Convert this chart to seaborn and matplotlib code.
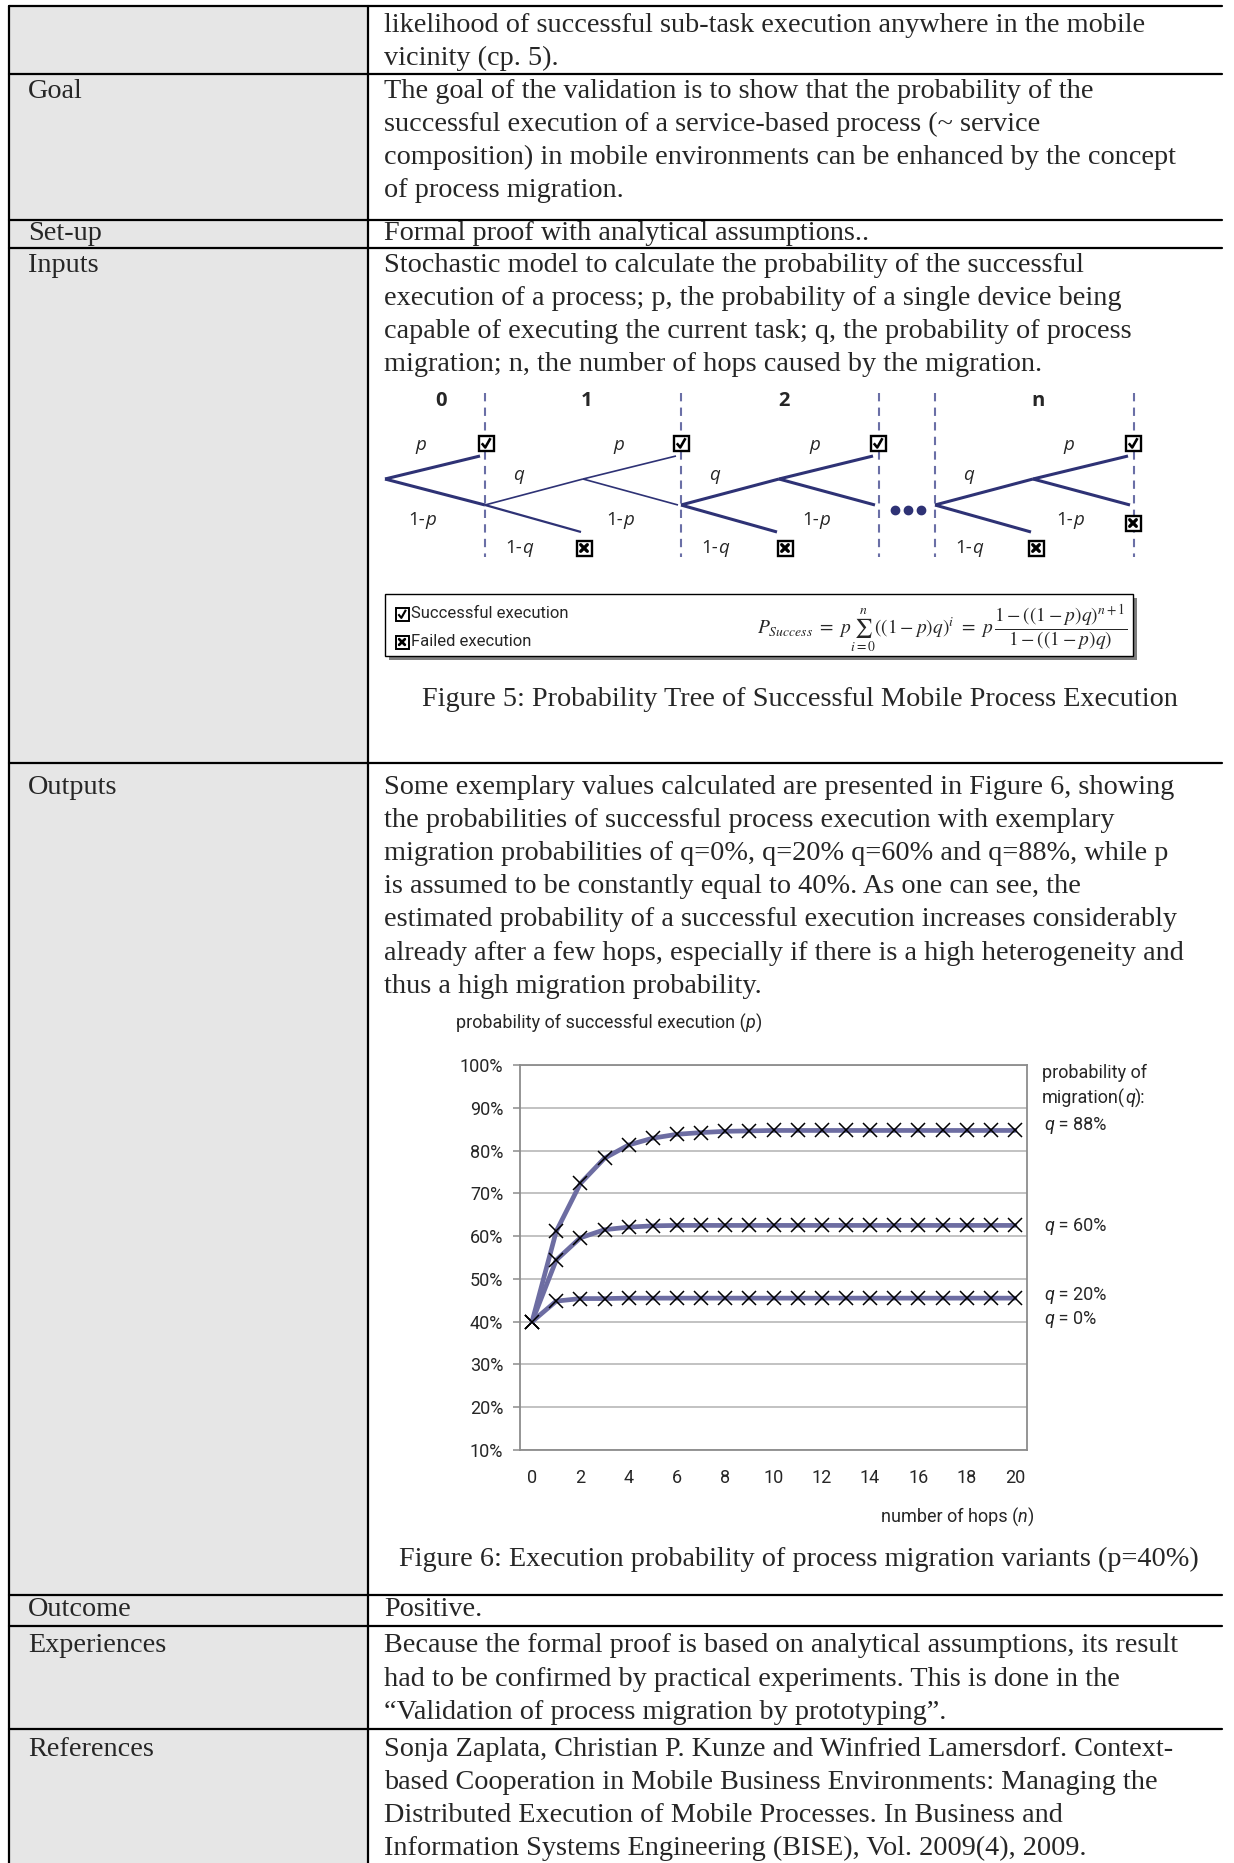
import numpy as np
import pandas as pd
import seaborn as sns
import matplotlib.pyplot as plt
from matplotlib.patches import Rectangle

# ---------------- data of figure 6 ----------------
hops = list(range(21))
prob_q88 = [0.400, 0.611, 0.723, 0.782, 0.813, 0.829, 0.838, 0.842, 0.845, 0.846, 0.847,
            0.847, 0.847, 0.847, 0.847, 0.847, 0.847, 0.847, 0.847, 0.847, 0.847]
prob_q60 = [0.400, 0.544, 0.596, 0.615, 0.621, 0.624, 0.625, 0.625, 0.625, 0.625, 0.625,
            0.625, 0.625, 0.625, 0.625, 0.625, 0.625, 0.625, 0.625, 0.625, 0.625]
prob_q20 = [0.400, 0.448, 0.454, 0.454, 0.455, 0.455, 0.455, 0.455, 0.455, 0.455, 0.455,
            0.455, 0.455, 0.455, 0.455, 0.455, 0.455, 0.455, 0.455, 0.455, 0.455]
y_ticks = [0.1, 0.2, 0.3, 0.4, 0.5, 0.6, 0.7, 0.8, 0.9, 1.0]
x_ticks = [0, 2, 4, 6, 8, 10, 12, 14, 16, 18, 20]
series_labels = ['q = 88%', 'q = 60%', 'q = 20%']

# ---------------- text of the table ----------------
row_labels = ['', 'Goal', 'Set-up', 'Inputs', 'Outputs', 'Outcome', 'Experiences', 'References']
row_texts = [
    ['likelihood of successful sub-task execution anywhere in the mobile',
     'vicinity (cp. 5).'],
    ['The goal of the validation is to show that the probability of the',
     'successful execution of a service-based process (~ service',
     'composition) in mobile environments can be enhanced by the concept',
     'of process migration.'],
    ['Formal proof with analytical assumptions..'],
    ['Stochastic model to calculate the probability of the successful',
     'execution of a process; p, the probability of a single device being',
     'capable of executing the current task; q, the probability of process',
     'migration; n, the number of hops caused by the migration.'],
    ['Some exemplary values calculated are presented in Figure 6, showing',
     'the probabilities of successful process execution with exemplary',
     'migration probabilities of q=0%, q=20% q=60% and q=88%, while p',
     'is assumed to be constantly equal to 40%. As one can see, the',
     'estimated probability of a successful execution increases considerably',
     'already after a few hops, especially if there is a high heterogeneity and',
     'thus a high migration probability.'],
    ['Positive.'],
    ['Because the formal proof is based on analytical assumptions, its result',
     'had to be confirmed by practical experiments. This is done in the',
     '\u201cValidation of process migration by prototyping\u201d.'],
    ['Sonja Zaplata, Christian P. Kunze and Winfried Lamersdorf. Context-',
     'based Cooperation in Mobile Business Environments: Managing the',
     'Distributed Execution of Mobile Processes. In Business and',
     'Information Systems Engineering (BISE), Vol. 2009(4), 2009.'],
]
# first text line of every row (pixel rows of the page)
row_first_line = [25, 91, 233, 265, 787, 1610, 1646, 1749]
row_borders = [6, 74, 220, 248, 763, 1595, 1626, 1729]
line_step = 33.2

sns.set_style('white')
plt.rcParams['font.family'] = ['Liberation Serif', 'DejaVu Serif']
plt.rcParams['mathtext.fontset'] = 'stix'

serif = ['Liberation Serif', 'DejaVu Serif']
narrow = ['Roboto', 'DejaVu Sans']
sans = ['Open Sans', 'DejaVu Sans']
navy = '#2E3275'
dash_col = '#6A6FA6'
line_col = '#6D6DA2'
body_size = 20.3

fig = plt.figure(figsize=(12.34, 18.63), dpi=100)
doc = fig.add_axes([0, 0, 1, 1])
doc.set_xlim(0, 1234)
doc.set_ylim(1863, 0)
doc.axis('off')
renderer = fig.canvas.get_renderer()


def pieces(x, y, parts, size, family, ha='left', zorder=3):
    # draw a run of text pieces (text, style) one after another
    drawn = []
    cx = x
    for txt, st in parts:
        t = doc.text(cx, y, txt, fontsize=size, family=family, style=st,
                     ha='left', va='center', zorder=zorder)
        cx += t.get_window_extent(renderer=renderer).width
        drawn.append(t)
    if ha != 'left':
        shift = (cx - x) if ha == 'right' else (cx - x) / 2
        for t in drawn:
            t.set_x(t.get_position()[0] - shift)


def box_ok(x, y, s=15, lw=1.7):
    doc.add_patch(Rectangle((x - s / 2, y - s / 2), s, s, facecolor='white', edgecolor='black', lw=lw, zorder=4))
    doc.plot([x - s * 0.28, x - s * 0.05, x + s * 0.3], [y + s * 0.02, y + s * 0.3, y - s * 0.32],
             color='black', lw=lw * 1.1, zorder=5, solid_capstyle='butt')


def box_fail(x, y, s=15, lw=1.7):
    doc.add_patch(Rectangle((x - s / 2, y - s / 2), s, s, facecolor='white', edgecolor='black', lw=lw, zorder=4))
    d = s * 0.22
    doc.plot([x - d, x + d], [y - d, y + d], color='black', lw=lw * 1.4, zorder=5)
    doc.plot([x - d, x + d], [y + d, y - d], color='black', lw=lw * 1.4, zorder=5)


# table
doc.add_patch(Rectangle((9, 6), 359, 1857, facecolor='#E6E6E6', edgecolor='none', zorder=0))
for yb in row_borders:
    doc.plot([9, 1222], [yb, yb], color='black', lw=1.6, zorder=2)
doc.plot([9, 9], [6, 1863], color='black', lw=1.6, zorder=2)
doc.plot([368, 368], [6, 1863], color='black', lw=1.6, zorder=2)

for lab, lines, y0 in zip(row_labels, row_texts, row_first_line):
    doc.text(28, y0, lab, fontsize=body_size, family=serif, va='center', ha='left')
    for i, t in enumerate(lines):
        doc.text(384, y0 + i * line_step, t, fontsize=body_size, family=serif, va='center', ha='left')

# ---------------- figure 5: probability tree ----------------
dash_x = [485, 681, 879, 935, 1134]
for xd in dash_x:
    doc.plot([xd, xd], [393, 557], color=dash_col, lw=1.5, ls=(0, (4, 3)), zorder=1)

stage_names = ['0', '1', '2', 'n']
stage_name_x = [441, 587, 784, 1038]
for s, xs in zip(stage_names, stage_name_x):
    doc.text(xs, 401, s, fontsize=14.5, family=sans, weight='bold', ha='center', va='center')


def label(x, y, txt):
    if txt.startswith('1-'):
        pieces(x, y, [('1-', 'normal'), (txt[2:], 'italic')], 13.5, sans, ha='center')
    else:
        doc.text(x, y, txt, fontsize=13.5, family=sans, style='italic', ha='center', va='center')


# stage 0
doc.plot([385, 480], [479, 456], color=navy, lw=2.2, solid_capstyle='butt')
doc.plot([385, 485], [479, 505], color=navy, lw=2.2, solid_capstyle='butt')
label(421, 445, 'p')
label(422, 520, '1-p')

# stages 1, 2, n: (start node x, end x of the stage, line width)
stages = [(485, 681, 1.2), (681, 878, 2.2), (935, 1133, 2.2)]
for xs, xe, lw in stages:
    xm = xs + 98
    doc.plot([xs, xm], [505, 479], color=navy, lw=lw, solid_capstyle='butt')
    doc.plot([xs, xm - 2], [505, 532], color=navy, lw=max(lw, 1.6), solid_capstyle='butt')
    doc.plot([xm, xe - 5], [479, 456], color=navy, lw=lw, solid_capstyle='butt')
    doc.plot([xm, xe - 3], [479, 505], color=navy, lw=lw, solid_capstyle='butt')
    label(xs + 34, 475, 'q')
    label(xs + 34, 548, '1-q')
    label(xm + 36, 445, 'p')
    label(xm + 37, 520, '1-p')

for xb in [486, 681, 878, 1133]:
    box_ok(xb, 443)
for xb, yb in [(584, 548), (785, 548), (1036, 548), (1133, 523)]:
    box_fail(xb, yb)

doc.plot([895, 908, 921], [510, 510, 510], 'o', color=navy, ms=6)

# legend / formula box
doc.add_patch(Rectangle((389, 598), 748, 62, facecolor='#7F7F7F', edgecolor='none', zorder=1))
doc.add_patch(Rectangle((385, 594), 748, 62, facecolor='white', edgecolor='black', lw=1.0, zorder=2))
box_ok(402, 614, s=13, lw=1.4)
doc.text(411, 614, 'Successful execution', fontsize=12, family=narrow, ha='left', va='center', zorder=3)
box_fail(402, 642, s=13, lw=1.4)
doc.text(411, 642, 'Failed execution', fontsize=12, family=narrow, ha='left', va='center', zorder=3)
doc.text(942, 628, r'$P_{Success}\ =\ p\sum_{i=0}^{n}((1-p)q)^{i}\ =\ p\,\dfrac{1-((1-p)q)^{n+1}}{1-((1-p)q)}$',
         fontsize=14, ha='center', va='center', zorder=3)

doc.text(800, 700, 'Figure 5: Probability Tree of Successful Mobile Process Execution',
         fontsize=body_size, family=serif, ha='center', va='center')

# ---------------- figure 6: chart ----------------
df = pd.DataFrame({
    'hops': hops * 3,
    'prob': prob_q88 + prob_q60 + prob_q20,
    'q': [series_labels[0]] * 21 + [series_labels[1]] * 21 + [series_labels[2]] * 21,
})

ax = fig.add_axes([520 / 1234, 1 - 1450 / 1863, 507 / 1234, 385 / 1863])
sns.lineplot(data=df, x='hops', y='prob', hue='q', palette=[line_col] * 3, linewidth=3.4,
             marker='x', markersize=10, markeredgecolor='black', markeredgewidth=1.1,
             legend=False, ax=ax, zorder=3)
ax.set_xlim(-0.5, 20.5)
ax.set_ylim(0.1, 1.0)
ax.set_yticks(y_ticks)
ax.set_yticklabels([f'{int(round(v * 100))}%' for v in y_ticks], family=narrow, fontsize=13)
ax.set_xticks(x_ticks)
ax.set_xticklabels([str(v) for v in x_ticks], family=narrow, fontsize=13)
ax.set_xticks(np.arange(-0.5, 21, 1), minor=True)
ax.tick_params(axis='x', which='major', length=0, pad=14)
ax.tick_params(axis='x', which='minor', length=5, color='#8C8C8C', width=1.1, direction='out')
ax.tick_params(axis='y', length=5, color='#8C8C8C', width=1.1, direction='out', pad=7, left=True)
ax.grid(axis='y', color='#BDBDBD', lw=1.3)
ax.set_axisbelow(True)
for sp in ax.spines.values():
    sp.set_visible(True)
    sp.set_color('#8C8C8C')
    sp.set_linewidth(1.3)
ax.set_xlabel('')
ax.set_ylabel('')

pieces(456, 1023, [('probability of successful execution (', 'normal'), ('p', 'italic'), (')', 'normal')],
       13, narrow)
doc.text(1042, 1073, 'probability of', fontsize=13, family=narrow, ha='left', va='center')
pieces(1042, 1098, [('migration(', 'normal'), ('q', 'italic'), ('):', 'normal')], 13, narrow)
for lab, yl in zip(series_labels + ['q = 0%'], [1125, 1226, 1295, 1319]):
    pieces(1044, yl, [('q', 'italic'), (lab[1:], 'normal')], 13, narrow)
pieces(1034, 1517, [('number of hops (', 'normal'), ('n', 'italic'), (')', 'normal')], 13, narrow, ha='right')

doc.text(799, 1559, 'Figure 6: Execution probability of process migration variants (p=40%)',
         fontsize=body_size, family=serif, ha='center', va='center')

fig.savefig('out.png', dpi=100)
